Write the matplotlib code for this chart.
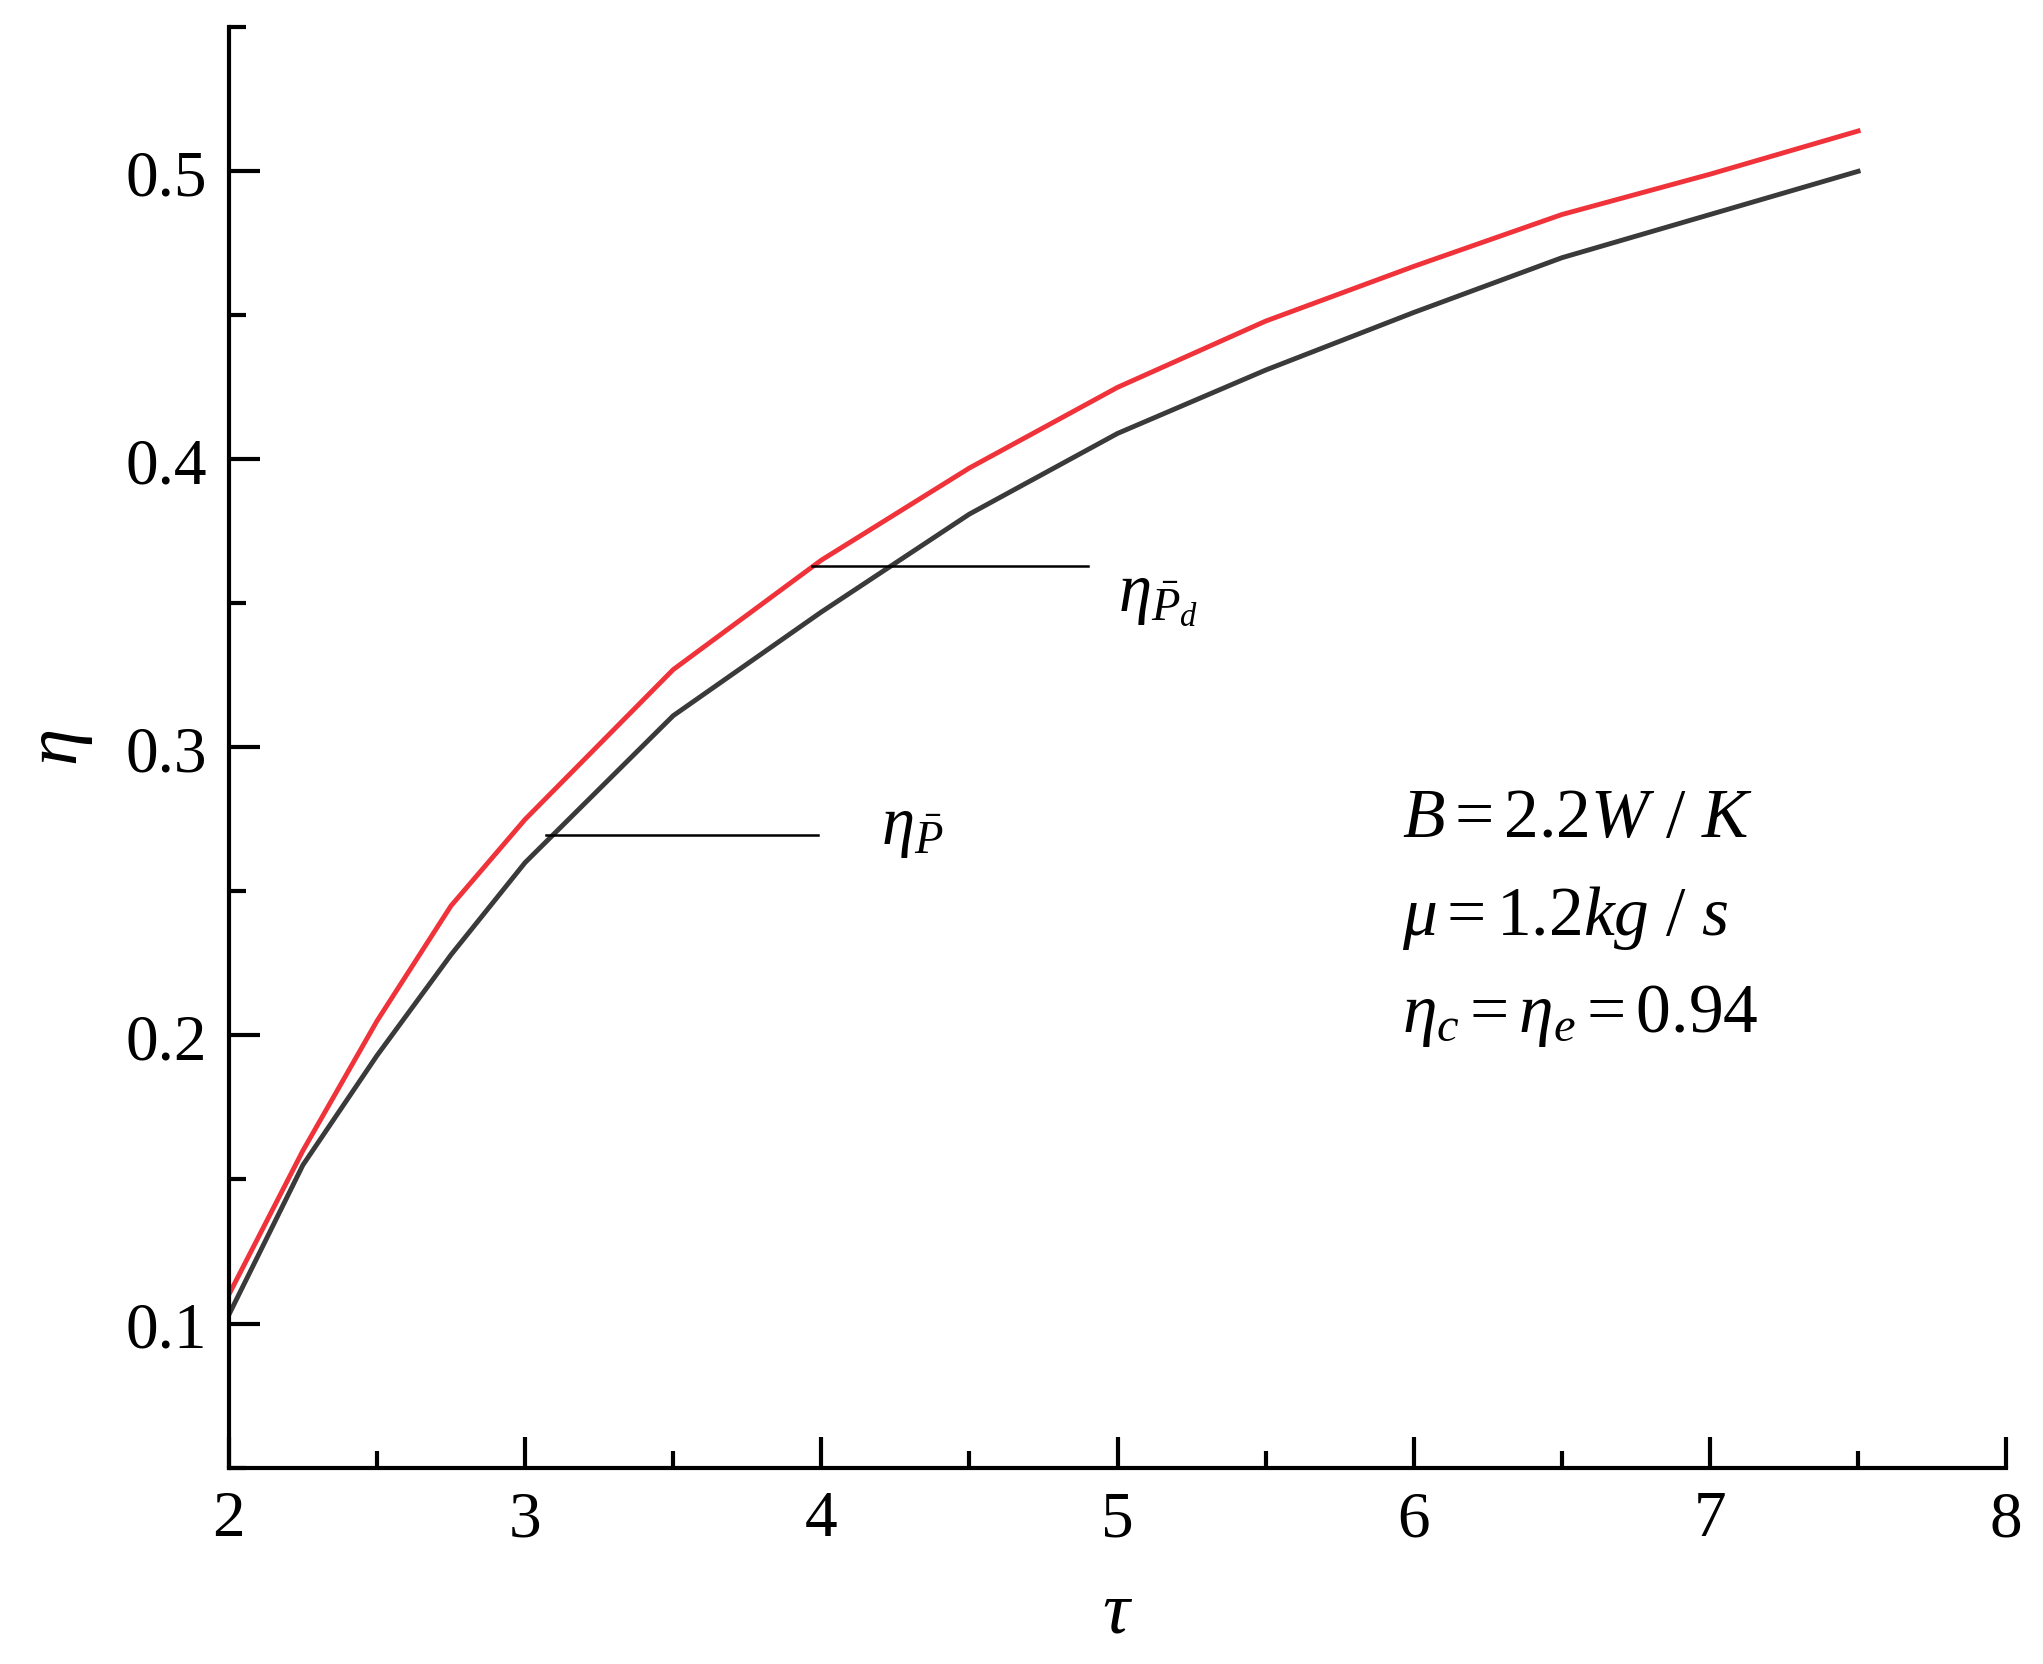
import matplotlib
matplotlib.use("Agg")
import matplotlib.pyplot as plt
from matplotlib.ticker import MultipleLocator

plt.rcParams['font.family'] = ['Liberation Serif', 'DejaVu Serif']
plt.rcParams['mathtext.fontset'] = 'custom'
plt.rcParams['mathtext.rm'] = 'Liberation Serif'
plt.rcParams['mathtext.it'] = 'Liberation Serif:italic'

tau = [2, 2.25, 2.5, 2.75, 3, 3.5, 4, 4.5, 5, 5.5, 6, 6.5, 7, 7.5]
eta_pd = [0.11, 0.16, 0.205, 0.245, 0.275, 0.327, 0.365, 0.397, 0.425, 0.448, 0.467, 0.485, 0.499, 0.514]
eta_p = [0.103, 0.155, 0.193, 0.228, 0.26, 0.311, 0.347, 0.381, 0.409, 0.431, 0.451, 0.470, 0.485, 0.500]

fig = plt.figure(figsize=(20.43, 16.65), dpi=100)
ax = fig.add_axes([0.112, 0.118, 0.87, 0.865])
ax.plot(tau, eta_pd, color='#f0333a', lw=3.5)
ax.plot(tau, eta_p, color='#3a3a3a', lw=3.5)
ax.set_xlim(2, 8)
ax.set_ylim(0.05, 0.55)
ax.xaxis.set_major_locator(MultipleLocator(1))
ax.xaxis.set_minor_locator(MultipleLocator(0.5))
ax.yaxis.set_minor_locator(MultipleLocator(0.05))
ax.set_yticks([0.1, 0.2, 0.3, 0.4, 0.5])
ax.set_yticklabels(['0.1', '0.2', '0.3', '0.4', '0.5'])
for s in ['top', 'right']:
    ax.spines[s].set_visible(False)
for s in ['left', 'bottom']:
    ax.spines[s].set_linewidth(3)
ax.tick_params(which='major', direction='in', length=22, width=3, labelsize=47, pad=16)
ax.tick_params(which='minor', direction='in', length=12, width=3)
ax.set_xlabel(r'$\tau$', fontsize=54, labelpad=22)
ax.set_ylabel(r'$\eta$', fontsize=54, labelpad=22)

ax.plot([3.97, 4.9], [0.363, 0.363], color='black', lw=1.8)
ax.plot([3.07, 3.99], [0.2695, 0.2695], color='black', lw=1.8)
ax.text(5.0, 0.352, r'$\eta_{\bar{P}_d}$', fontsize=48, va='center')
ax.text(4.2, 0.272, r'$\eta_{\bar{P}}$', fontsize=48, va='center')
ax.text(5.96, 0.275, r'$B=2.2W\ /\ K$', fontsize=50, va='center')
ax.text(5.96, 0.241, r'$\mu=1.2kg\ /\ s$', fontsize=50, va='center')
ax.text(5.96, 0.207, r'$\eta_c=\eta_e=0.94$', fontsize=50, va='center')

fig.savefig('out.png', dpi=100)
